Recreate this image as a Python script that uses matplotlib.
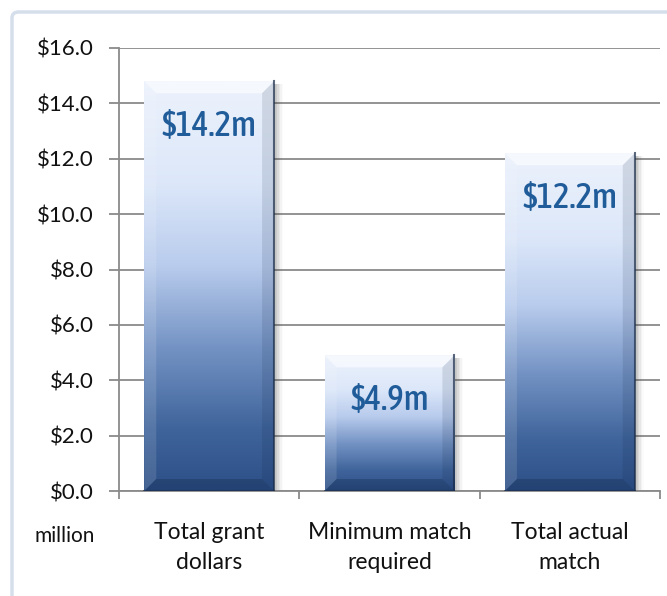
import numpy as np
import matplotlib
matplotlib.use("Agg")
import matplotlib.pyplot as plt
from matplotlib.colors import LinearSegmentedColormap
from matplotlib.patches import Rectangle, Polygon, FancyBboxPatch

# data
categories = ["Total grant\ndollars", "Minimum match\nrequired", "Total actual\nmatch"]
values = [14.8, 4.9, 12.2]
value_labels = ["$14.2m", "$4.9m", "$12.2m"]
y_ticks = [0, 2, 4, 6, 8, 10, 12, 14, 16]

W, H = 667, 596
fig = plt.figure(figsize=(W / 100, H / 100), dpi=100)
left, right, bottom, top = 119 / W, 660 / W, 1 - 491 / H, 1 - 48 / H
ax = fig.add_axes([left, bottom, right - left, top - bottom])

# chart frame
frame = FancyBboxPatch((12 / W, -0.1), 1.2, 1 - 12 / H + 0.1,
                       boxstyle="round,pad=0,rounding_size=0.01",
                       transform=fig.transFigure, facecolor="white",
                       edgecolor="#d5dfeb", linewidth=2.5, zorder=-10)
fig.patches.append(frame)

xmin, xmax, ymin, ymax = -0.5, 2.5, 0, 16
px_x = (xmax - xmin) / (W * (right - left))   # data units per pixel
px_y = (ymax - ymin) / (H * (top - bottom))

cmap = LinearSegmentedColormap.from_list("bar", [
    (0.0, "#2c4f86"), (0.15, "#3f649b"), (0.35, "#7493c4"),
    (0.55, "#b9cced"), (0.75, "#dce7f9"), (1.0, "#ecf2fc")])
grad = np.linspace(0, 1, 256).reshape(-1, 1)

bar_w = 0.72
for i, v in enumerate(values):
    x0, x1 = i - bar_w / 2, i + bar_w / 2
    # shadow
    for k, a in enumerate([0.10, 0.08, 0.06, 0.04, 0.02]):
        ax.add_patch(Rectangle((x1, 0), (k + 2) * px_x * 1.5, v - 3 * px_y,
                               facecolor="#404040", alpha=a, edgecolor="none", zorder=2))
    rect = Rectangle((x0, 0), bar_w, v, facecolor="none", edgecolor="none", zorder=3)
    ax.add_patch(rect)
    im = ax.imshow(grad, cmap=cmap, extent=(x0, x1, 0, v), origin="lower",
                   aspect="auto", zorder=3, interpolation="bilinear")
    im.set_clip_path(rect)
    bx, by = 12 * px_x, 12 * px_y
    ax.add_patch(Polygon([(x0, v), (x1, v), (x1 - bx, v - by), (x0 + bx, v - by)],
                         facecolor="white", alpha=0.55, edgecolor="none", zorder=4))
    ax.add_patch(Polygon([(x1, v), (x1, 0), (x1 - bx, by), (x1 - bx, v - by)],
                         facecolor="#0d1f3c", alpha=0.12, edgecolor="none", zorder=4))
    ax.add_patch(Polygon([(x0, v), (x0, 0), (x0 + bx, by), (x0 + bx, v - by)],
                         facecolor="white", alpha=0.12, edgecolor="none", zorder=4))
    ax.add_patch(Polygon([(x0, 0), (x1, 0), (x1 - bx, by), (x0 + bx, by)],
                         facecolor="#0d1f3c", alpha=0.25, edgecolor="none", zorder=4))
    ax.plot([x1, x1], [0, v], color="#1a2c48", lw=1.5, alpha=0.7, zorder=5)
    ax.plot([x0, x1], [0, 0], color="#1a2c48", lw=1.5, alpha=0.6, zorder=5)
    ax.annotate(value_labels[i], (i, v), xytext=(0, -32), textcoords="offset points",
                ha="center", va="center", fontsize=25, fontweight="medium",
                family=["Asap Condensed", "DejaVu Sans"],
                color="#1f5c99", zorder=6)

ax.set_xlim(xmin, xmax)
ax.set_ylim(ymin, ymax)
ax.set_yticks(y_ticks)
ax.set_yticklabels(["${:.1f}".format(t) for t in y_ticks])
ax.set_xticks([-0.5, 0.5, 1.5, 2.5])
ax.set_xticklabels([])
ax.grid(axis="y", color="#8a8a8a", linewidth=1.3, zorder=0)
ax.set_axisbelow(True)
for s in ["top", "right"]:
    ax.spines[s].set_visible(False)
for s in ["left", "bottom"]:
    ax.spines[s].set_color("#8a8a8a")
    ax.spines[s].set_linewidth(1.3)
ax.tick_params(axis="y", length=7, width=1.3, color="#8a8a8a", pad=11,
               labelsize=16, labelcolor="#111111")
ax.tick_params(axis="x", length=6, width=1.3, color="#8a8a8a")
for lab in ax.get_yticklabels():
    lab.set_family("Lato")

for i, c in enumerate(categories):
    ax.text(i, -1.12, c, ha="center", va="top", fontsize=16.5, family="Lato",
            color="#111111", linespacing=1.5)
ax.text(-0.5 - 24 * px_x, -1.25, "million", ha="right",
        va="top", fontsize=15, family="Lato", color="#111111")

fig.savefig("out.png", dpi=100)
